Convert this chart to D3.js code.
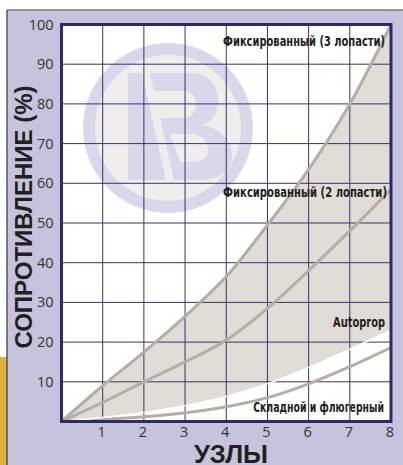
<!DOCTYPE html>
<html>
<head>
<meta charset="utf-8">
<script src="https://cdn.jsdelivr.net/npm/d3@7/dist/d3.min.js"></script>
<style>
  body { margin: 0; background: #fff; }
  svg { display: block; }
  .tick-label { font-family: "Open Sans", "Liberation Sans", sans-serif; font-size: 14.5px; fill: #333; }
  .curve-label { font-family: "Liberation Sans Narrow", "DejaVu Sans Condensed", sans-serif; font-weight: bold; font-size: 14px; fill: #231f20; }
  .axis-title { font-family: "Liberation Sans", Arial, sans-serif; font-weight: bold; fill: #231f20; }
</style>
</head>
<body>
<svg width="403" height="465"></svg>
<script>
// speed in knots
const knots = [0, 1, 2, 3, 4, 5, 6, 7, 8];
// drag, %
const fixed3 = [0, 9, 17.5, 26.5, 36.5, 49.5, 63.5, 80, 100];
const fixed2 = [0, 4.8, 10, 15, 20.5, 28.5, 38, 48, 58.5];
const autoprop = [0, 1, 2.3, 4, 6.3, 9.5, 13.6, 18.2, 23];
const folding = [0, 0.5, 1.2, 2.2, 3.7, 6, 9.5, 13.8, 18.6];

const yTicks = [10, 20, 30, 40, 50, 60, 70, 80, 90, 100];
const xTicks = [1, 2, 3, 4, 5, 6, 7, 8];
const curveNames = ["Фиксированный (3 лопасти)", "Фиксированный (2 лопасти)", "Autoprop", "Складной и флюгерный"];
const yTitle = "СОПРОТИВЛЕНИЕ (%)";
const xTitle = "УЗЛЫ";

const svg = d3.select("svg");
const W = 403, H = 465;

// page frame
svg.append("rect").attr("x", 7).attr("y", 10).attr("width", W - 7).attr("height", H - 10).attr("fill", "#c6c4dd");
svg.append("rect").attr("x", 0).attr("y", 357).attr("width", 7).attr("height", H - 357).attr("fill", "#dcb03c");
svg.append("line").attr("x1", 7).attr("x2", W).attr("y1", 10).attr("y2", 10).attr("stroke", "#7d7b85").attr("stroke-width", 1.5);
svg.append("line").attr("x1", 7).attr("x2", 7).attr("y1", 10).attr("y2", H).attr("stroke", "#55535c").attr("stroke-width", 1.5);

const xScale = d3.scaleLinear().domain([0, 8]).range([61.5, 391]);
const yScale = d3.scaleLinear().domain([0, 100]).range([421.5, 24.5]);

const pLeft = xScale(0), pRight = xScale(8), pTop = yScale(100), pBottom = yScale(0);

// plot background
svg.append("rect")
  .attr("x", pLeft).attr("y", pTop)
  .attr("width", pRight - pLeft).attr("height", pBottom - pTop)
  .attr("fill", "#fff");

svg.append("clipPath").attr("id", "plot-clip")
  .append("rect")
  .attr("x", pLeft).attr("y", pTop)
  .attr("width", pRight - pLeft).attr("height", pBottom - pTop);

const plot = svg.append("g").attr("clip-path", "url(#plot-clip)");

// watermark logo
const logo = plot.append("g").attr("transform", "translate(168,128)");
logo.append("circle").attr("r", 85).attr("fill", "#d9d8ea");
logo.append("circle").attr("r", 73).attr("fill", "#f0eeea");
logo.append("path")
  .attr("fill", "#d9d8ea")
  .attr("fill-rule", "evenodd")
  .attr("d",
    "M-40,-55 L20,-55 C45,-55 50,-40 50,-27 C50,-13 42,-5 35,-3 C55,2 64,15 64,27 C64,45 50,52 30,52 L-40,52 Z" +
    "M-18,-37 L15,-37 C25,-37 28,-30 28,-24 C28,-16 23,-10 15,-10 L-8,-10 Z" +
    "M2,6 L22,6 C35,6 40,14 40,22 C40,30 35,34 22,34 L12,34 Z");
logo.append("path")
  .attr("fill", "#f0eeea")
  .attr("d", "M-26,-55 L-18,-55 L6,52 L-2,52 Z");

// shaded band between 3-blade fixed and Autoprop
const area = d3.area()
  .x((d, i) => xScale(knots[i]))
  .y0((d, i) => yScale(autoprop[i]))
  .y1((d) => yScale(d))
  .curve(d3.curveCatmullRom.alpha(0.5));

plot.append("path")
  .datum(fixed3)
  .attr("d", area)
  .attr("fill", "#e0dcd6");

// grid
plot.selectAll(".vgrid")
  .data(xTicks)
  .enter()
  .append("line")
  .attr("class", "vgrid")
  .attr("x1", (d) => xScale(d)).attr("x2", (d) => xScale(d))
  .attr("y1", pTop).attr("y2", pBottom)
  .attr("stroke", "#34336f").attr("stroke-width", 1);

plot.selectAll(".hgrid")
  .data(yTicks)
  .enter()
  .append("line")
  .attr("class", "hgrid")
  .attr("x1", pLeft).attr("x2", pRight)
  .attr("y1", (d) => yScale(d)).attr("y2", (d) => yScale(d))
  .attr("stroke", "#34336f").attr("stroke-width", 1);

// curves
const line = d3.line()
  .x((d, i) => xScale(knots[i]))
  .y((d) => yScale(d))
  .curve(d3.curveCatmullRom.alpha(0.5));

[fixed3, fixed2, folding].forEach((s) => {
  plot.append("path")
    .datum(s)
    .attr("d", line)
    .attr("fill", "none")
    .attr("stroke", "#b6aea4")
    .attr("stroke-width", 3);
});

plot.append("path")
  .datum(autoprop)
  .attr("d", line)
  .attr("fill", "none")
  .attr("stroke", "#fff")
  .attr("stroke-width", 1.5);

// curve labels: right edge, baseline, width (squeezed horizontally like a condensed face)
const labelPos = [
  [385, 46, 162],
  [387, 197, 164],
  [385, 327, 52],
  [384, 412, 131],
];
curveNames.forEach((name, i) => {
  const p = labelPos[i];
  const g = svg.append("g");
  const t = g.append("text")
    .attr("class", "curve-label")
    .attr("x", 0)
    .attr("y", 0)
    .attr("text-anchor", "end")
    .text(name);
  const w = t.node().getComputedTextLength();
  g.attr("transform", `translate(${p[0]},${p[1]}) scale(${p[2] / w},1)`);
});

// plot border
svg.append("rect")
  .attr("x", pLeft).attr("y", pTop)
  .attr("width", pRight - pLeft).attr("height", pBottom - pTop)
  .attr("fill", "none")
  .attr("stroke", "#2c2b6a").attr("stroke-width", 3);

// tick labels
svg.selectAll(".ylab")
  .data(yTicks)
  .enter()
  .append("text")
  .attr("class", "tick-label")
  .attr("x", pLeft - 8)
  .attr("y", (d) => yScale(d) + 5)
  .attr("text-anchor", "end")
  .text((d) => d);

svg.selectAll(".xlab")
  .data(xTicks)
  .enter()
  .append("text")
  .attr("class", "tick-label")
  .attr("x", (d) => xScale(d) - 1)
  .attr("y", 437)
  .attr("text-anchor", "middle")
  .text((d) => d);

// axis titles
svg.append("text")
  .attr("class", "axis-title")
  .attr("transform", "translate(32,217) rotate(-90)")
  .attr("text-anchor", "middle")
  .attr("font-size", 24)
  .text(yTitle);

svg.append("text")
  .attr("class", "axis-title")
  .attr("x", 231)
  .attr("y", 463)
  .attr("text-anchor", "middle")
  .attr("font-size", 25.5)
  .text(xTitle);
</script>
</body>
</html>
